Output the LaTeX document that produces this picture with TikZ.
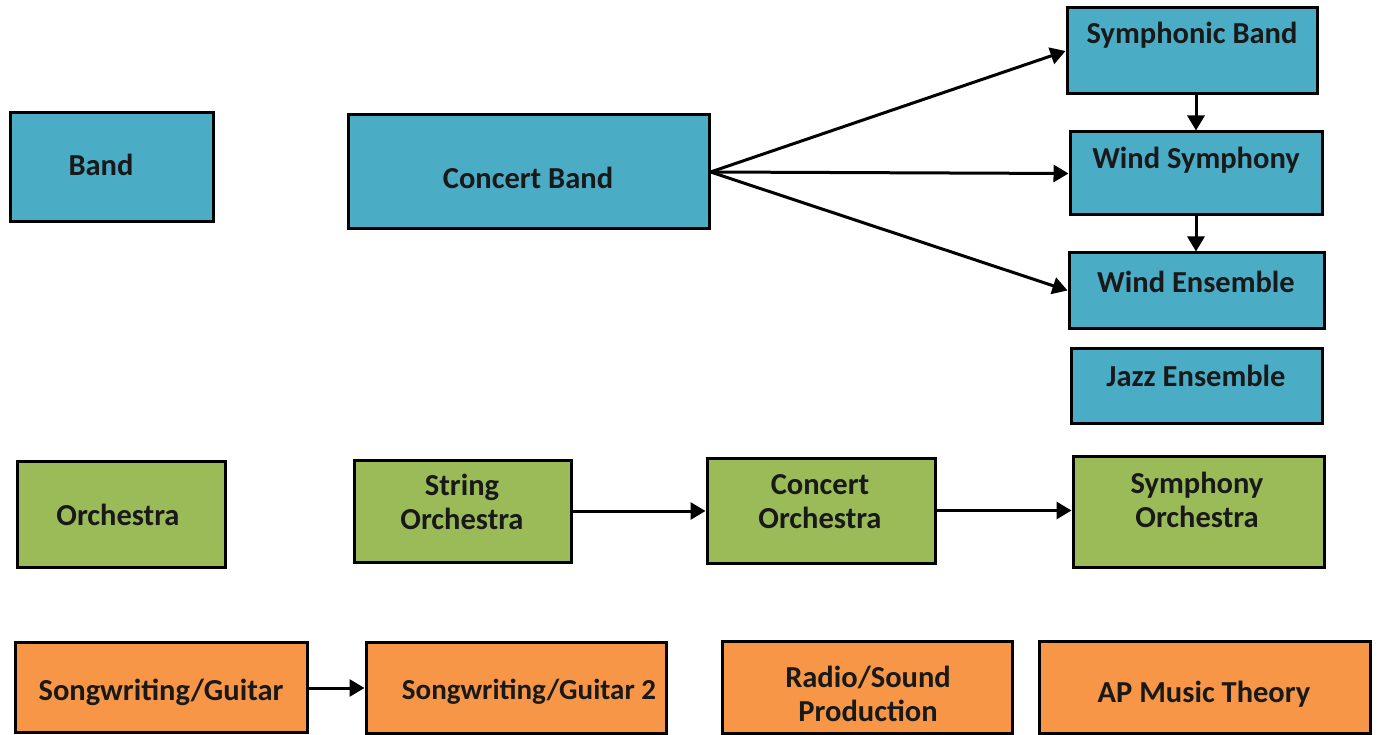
\documentclass[tikz,border=0pt]{standalone}
\usepackage{fontspec}
\setmainfont{Carlito}
\usetikzlibrary{arrows.meta}
\definecolor{cblue}{HTML}{4BACC6}
\definecolor{cgreen}{HTML}{9BBB59}
\definecolor{corange}{HTML}{F79646}
\tikzset{
  box/.style={draw=black, line width=3pt, rectangle, inner sep=0pt},
  bluebox/.style={box, fill=cblue},
  greenbox/.style={box, fill=cgreen},
  orangebox/.style={box, fill=corange},
  lbl/.style={font=\fontsize{30.5}{34}\selectfont\bfseries, align=center, inner sep=0pt, text=black!90},
  arr/.style={line width=3pt, -{Triangle[length=15pt,width=17pt]}}
}
\begin{document}
\begin{tikzpicture}[x=1pt,y=-1pt]
\useasboundingbox (0,0) rectangle (1378,735);
% Band row
\node[bluebox, minimum width=203, minimum height=109] (band) at (111.5,167.5) {};
\node[lbl] (bandt) at (101,165) {Band};
\node[bluebox, minimum width=361, minimum height=114] (cb) at (528.5,172) {};
\node[lbl] (cbt) at (528,178) {Concert Band};
\node[bluebox, minimum width=250, minimum height=86] (symb) at (1192,51) {};
\node[lbl] (symbt) at (1192,35) {Symphonic Band};
\node[bluebox, minimum width=252, minimum height=83] (wsym) at (1196,173.5) {};
\node[lbl] (wsymt) at (1196,160) {Wind Symphony};
\node[bluebox, minimum width=255, minimum height=75] (wens) at (1196.5,290.5) {};
\node[lbl] (wenst) at (1196,282) {Wind Ensemble};
\node[bluebox, minimum width=251, minimum height=75] (jazz) at (1196.5,385.5) {};
\node[lbl] (jazzt) at (1196,376) {Jazz Ensemble};
\draw[arr] (cb.east) -- (symb.west);
\draw[arr] (cb.east) -- (wsym.west);
\draw[arr] (cb.east) -- (wens.west);
\draw[arr] (wsym.north |- symb.south) -- (wsym.north);
\draw[arr] (wsym.south) -- (wsym.south |- wens.north);
% Orchestra row
\node[greenbox, minimum width=208, minimum height=106] (orch) at (121,514) {};
\node[lbl] (orcht) at (118,515) {Orchestra};
\node[greenbox, minimum width=217, minimum height=102] (so) at (462.5,511) {};
\node[lbl] (sot) at (462,502) {String\\Orchestra};
\node[greenbox, minimum width=228, minimum height=105] (co) at (821,510.5) {};
\node[lbl] (cot) at (820,502) {Concert\\Orchestra};
\node[greenbox, minimum width=251, minimum height=111] (syo) at (1198.5,511.5) {};
\node[lbl] (syot) at (1197,500) {Symphony\\Orchestra};
\draw[arr] (so.east) -- (so.east -| co.west);
\draw[arr] (co.east) -- (co.east -| syo.west);
% Bottom row
\node[orangebox, minimum width=292, minimum height=90] (sg) at (161,687) {};
\node[lbl] (sgt) at (161,692) {Songwriting/Guitar};
\node[orangebox, minimum width=300, minimum height=91] (sg2) at (516,687.5) {};
\node[lbl, font=\fontsize{29}{34}\selectfont\bfseries] (sg2t) at (529,692) {Songwriting/Guitar 2};
\node[orangebox, minimum width=290, minimum height=92] (rad) at (867,687) {};
\node[lbl] (radt) at (868,694) {Radio/Sound\\Production};
\node[orangebox, minimum width=331, minimum height=92] (ap) at (1204.5,687) {};
\node[lbl] (apt) at (1204,694) {AP Music Theory};
\draw[arr] (sg.east |- 0,688) -- (sg2.west |- 0,688);
\end{tikzpicture}
\end{document}
